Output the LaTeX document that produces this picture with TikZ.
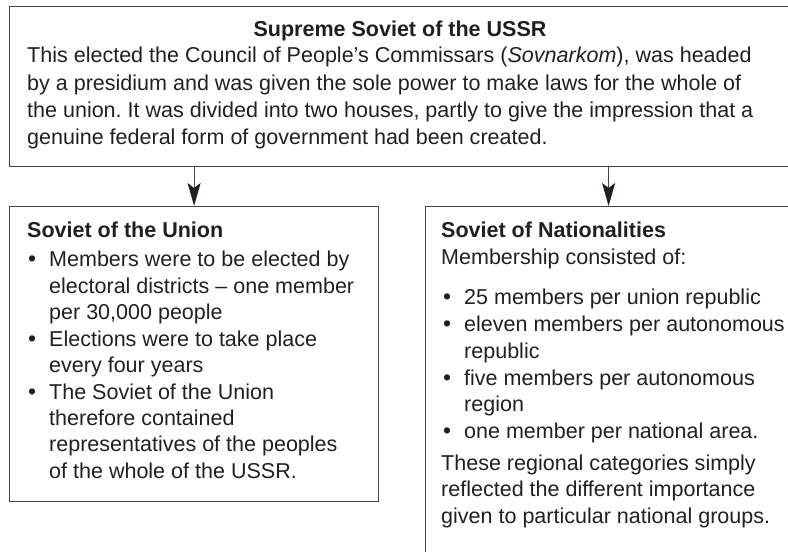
\documentclass[tikz,border=0pt]{standalone}
\usepackage{fontspec}
\setmainfont{Liberation Sans}
\usetikzlibrary{arrows.meta}
\definecolor{ink}{HTML}{231F20}
\definecolor{rule}{HTML}{454545}
\frenchspacing
\begin{document}
\begin{tikzpicture}[x=1bp,y=-1bp,
  frame/.style={draw=rule,line width=1.2bp,fill=none,inner sep=0pt,anchor=north west},
  txt/.style={inner sep=0pt,anchor=base west,text=ink,font=\fontsize{21.6}{26}\selectfont},
  head/.style={txt,font=\fontsize{21.6}{26}\selectfont\bfseries},
  dot/.style={txt,font=\fontsize{23}{26}\selectfont},
  link/.style={draw=rule,line width=1.1bp,-{Stealth[length=23bp,width=13bp,inset=5bp,color=ink]}}]
\useasboundingbox (0,0) rectangle (788,552);
\clip (0,0) rectangle (788,552);
% boxes
\node[frame,minimum width=830bp,minimum height=160bp] (top) at (9,6) {};
\node[frame,minimum width=369bp,minimum height=295bp] (union) at (9,206) {};
\node[frame,minimum width=366bp,minimum height=360bp] (nat) at (425,206) {};
% connectors
\draw[link] (top.south -| union.north) -- (union.north);
\draw[link] (top.south -| nat.north) -- (nat.north);
% Supreme Soviet
\node[head,anchor=base] (toptitle) at (400,37) {Supreme Soviet of the USSR};
\node[txt] (ta) at (27,63) {This elected the Council of People’s Commissars (\textit{Sovnarkom}), was headed};
\node[txt] (tb) at (27,90.3) {by a presidium and was given the sole power to make laws for the whole of};
\node[txt] (tc) at (27,117.6) {the union. It was divided into two houses, partly to give the impression that a};
\node[txt] (td) at (27,145) {genuine federal form of government had been created.};
% Soviet of the Union
\node[head] (utitle) at (27,238) {Soviet of the Union};
\node[dot] (ub1) at (28,267) {•};
\node[txt] (u1) at (49,267) {Members were to be elected by};
\node[txt] (u2) at (49,293.4) {electoral districts – one member};
\node[txt] (u3) at (49,319.8) {per 30,000 people};
\node[dot] (ub2) at (28,346.2) {•};
\node[txt] (u4) at (49,346.2) {Elections were to take place};
\node[txt] (u5) at (49,372.6) {every four years};
\node[dot] (ub3) at (28,399) {•};
\node[txt] (u6) at (49,399) {The Soviet of the Union};
\node[txt] (u7) at (49,425.4) {therefore contained};
\node[txt] (u8) at (49,451.8) {representatives of the peoples};
\node[txt] (u9) at (49,478.2) {of the whole of the USSR.};
% Soviet of Nationalities
\node[head] (ntitle) at (441,238) {Soviet of Nationalities};
\node[txt] (n0) at (441,265) {Membership consisted of:};
\node[dot] (nb1) at (443,305) {•};
\node[txt] (n1) at (464,305) {25 members per union republic};
\node[dot] (nb2) at (443,331.7) {•};
\node[txt] (n2) at (464,331.7) {eleven members per autonomous};
\node[txt] (n3) at (464,358.4) {republic};
\node[dot] (nb3) at (443,385.1) {•};
\node[txt] (n4) at (464,385.1) {five members per autonomous};
\node[txt] (n5) at (464,411.8) {region};
\node[dot] (nb4) at (443,438.5) {•};
\node[txt] (n6) at (464,438.5) {one member per national area.};
\node[txt] (n7) at (441,470) {These regional categories simply};
\node[txt] (n8) at (441,496.7) {reflected the different importance};
\node[txt] (n9) at (441,523.4) {given to particular national groups.};
\end{tikzpicture}
\end{document}
